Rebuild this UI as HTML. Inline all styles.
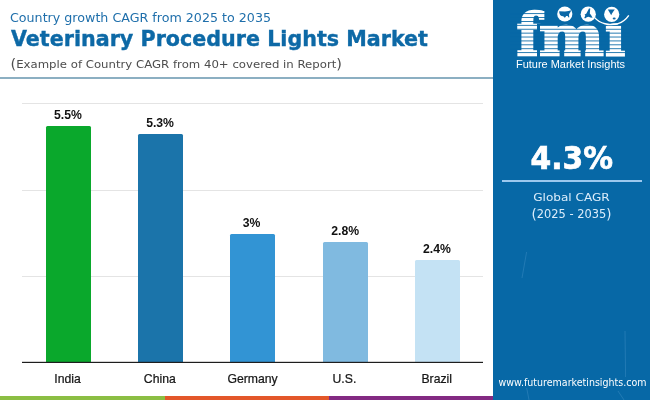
<!DOCTYPE html>
<html>
<head>
<meta charset="utf-8">
<style>
html,body{margin:0;padding:0;background:#fff;}
body{width:650px;height:400px;overflow:hidden;position:relative;}
svg{display:block;position:absolute;left:0;top:0;will-change:transform;}
.pop{font-family:"DejaVu Sans","Liberation Sans",sans-serif;}
.rob{font-family:"Liberation Sans",Arial,sans-serif;}
</style>
</head>
<body>
<svg width="650" height="400" viewBox="0 0 650 400">
  <defs>
    <clipPath id="noidot"><rect x="600" y="23.5" width="50" height="40"/></clipPath>
    <clipPath id="fclip"><rect x="500" y="0" width="50" height="23.5"/><rect x="500" y="23.5" width="37" height="40"/></clipPath>
  </defs>

  <!-- header -->
  <text id="sub" class="pop" x="10" y="21.7" font-size="11.8" fill="#1f6fab" textLength="261" lengthAdjust="spacingAndGlyphs">Country growth CAGR from 2025 to 2035</text>
  <text id="title" class="pop" x="11" y="45.7" font-size="21.6" font-weight="bold" fill="#0d69a6" stroke="#0d69a6" stroke-width="0.4" textLength="417" lengthAdjust="spacingAndGlyphs">Veterinary Procedure Lights Market</text>
  <text id="ex" class="pop" x="10.5" y="68.1" font-size="11.3" fill="#4d4d4d" textLength="331.5" lengthAdjust="spacingAndGlyphs"><tspan font-size="14" dy="0.6">(</tspan><tspan dy="-0.6">Example of Country CAGR from 40+ covered in Report</tspan><tspan font-size="14" dy="0.6">)</tspan></text>
  <rect x="0" y="77" width="493" height="2" fill="#8cafc2"/>

  <!-- grid -->
  <rect x="22" y="103" width="461" height="1" fill="#e4e4e4"/>
  <rect x="22" y="190" width="461" height="1" fill="#e4e4e4"/>
  <rect x="22" y="276" width="461" height="1" fill="#e4e4e4"/>

  <!-- bars -->
  <path d="M46 362 V127.5 Q46 126 47.5 126 H89.5 Q91 126 91 127.5 V362 Z" fill="#0aa82c"/>
  <path d="M138 362 V135.5 Q138 134 139.5 134 H181.5 Q183 134 183 135.5 V362 Z" fill="#1b74aa"/>
  <path d="M230 362 V235.5 Q230 234 231.5 234 H273.5 Q275 234 275 235.5 V362 Z" fill="#3294d4"/>
  <path d="M323 362 V243.5 Q323 242 324.5 242 H366.5 Q368 242 368 243.5 V362 Z" fill="#80bae0"/>
  <path d="M415 362 V261.5 Q415 260 416.5 260 H458.5 Q460 260 460 261.5 V362 Z" fill="#c4e2f4"/>

  <rect x="22" y="361.8" width="461" height="1.2" fill="#1e1e1e"/>

  <!-- values -->
  <g class="rob" font-size="13" font-weight="bold" fill="#111" text-anchor="middle">
    <text transform="translate(67.90 119) scale(0.94 1)">5.5%</text>
    <text transform="translate(160.05 127) scale(0.94 1)">5.3%</text>
    <text transform="translate(251.60 227) scale(0.94 1)">3%</text>
    <text transform="translate(345.20 235) scale(0.94 1)">2.8%</text>
    <text transform="translate(436.95 253) scale(0.94 1)">2.4%</text>
  </g>
  <!-- categories -->
  <g class="rob" font-size="13" fill="#161616" stroke="#161616" stroke-width="0.25" text-anchor="middle">
    <text transform="translate(67.50 382.7) scale(0.94 1)">India</text>
    <text transform="translate(159.80 382.7) scale(0.94 1)">China</text>
    <text transform="translate(252.60 382.7) scale(0.94 1)">Germany</text>
    <text transform="translate(344.40 382.7) scale(0.94 1)">U.S.</text>
    <text transform="translate(436.70 382.7) scale(0.94 1)">Brazil</text>
  </g>

  <!-- bottom strip -->
  <rect x="0" y="396" width="165" height="4" fill="#8bbe43"/>
  <rect x="165" y="396" width="164" height="4" fill="#e3572a"/>
  <rect x="329" y="396" width="164" height="4" fill="#832a82"/>

  <!-- right panel -->
  <rect x="493" y="0" width="157" height="400" fill="#0768a6"/>

  <!-- logo -->
  <g font-family="DejaVu Serif, Liberation Serif, serif" font-weight="bold" font-size="58" fill="#fff" stroke="#fff" stroke-width="2.5">
    <g clip-path="url(#fclip)"><text transform="translate(516.7 55) scale(0.941 0.989)">f</text></g>
    <text transform="translate(539.25 54.56) scale(1.05 0.939)">m</text>
    <g clip-path="url(#noidot)"><text transform="translate(605.2 55.16) scale(0.9 0.94)">i</text></g>
  </g>
  <g fill="#0768a6"><rect x="559.6" y="48" width="4.6" height="9"/><rect x="580.6" y="48" width="4.6" height="9"/></g>
  <g fill="#0768a6"><rect x="510" y="13.20" width="40" height="0.85"/><rect x="510" y="17.10" width="40" height="0.85"/><rect x="510" y="21.00" width="40" height="0.85"/><rect x="510" y="24.90" width="120" height="0.85"/><rect x="510" y="28.80" width="120" height="0.85"/><rect x="510" y="32.70" width="120" height="0.85"/><rect x="510" y="36.60" width="120" height="0.85"/><rect x="510" y="40.50" width="120" height="0.85"/><rect x="510" y="44.40" width="120" height="0.85"/><rect x="510" y="48.30" width="120" height="0.85"/><rect x="510" y="52.20" width="120" height="0.85"/></g>
  <circle cx="564.8" cy="14" r="7.6" fill="#fff"/>
  <circle cx="588.25" cy="14.2" r="7.6" fill="#fff"/>
  <circle cx="611.7" cy="14.4" r="7.6" fill="#fff"/>
  <path d="M559.2 11.3 L565 11.4 L568.6 11 L570.9 10.3 L570.7 11.8 L569.6 13.2 L569 14.8 L569.3 17.2 L568.6 17.4 L567.6 15.9 L566.2 15.9 L565.1 17.6 L564.3 17.5 L563.3 16.3 L561.5 16 L560.1 15 Q559.1 13.5 559.2 11.3 Z" fill="#0b67a6"/>
  <path d="M589 8.6 L590.3 8.4 L590 11 L589.8 13.5 L591 15 L592.6 17.8 L590.5 17.6 L588.5 16.8 L586.8 17.2 L585 18.6 L584.3 17.8 L585.3 15.8 L584.6 14.6 L586.2 13.8 L587.4 11.5 Z" fill="#0b67a6"/>
  <path d="M607.8 9.6 L614.8 9.4 L613.5 11.2 L612 13.5 L611.2 15.2 L610.2 13.4 L609 11.5 Z" fill="#0b67a6"/>
  <ellipse cx="614.2" cy="18.4" rx="1.5" ry="1" fill="#0b67a6"/>
  <path d="M594.6 17.6 C600 23.5, 609 26.2, 618 23.6 C622.5 22.2, 626.2 19.2, 628.8 15.4" stroke="#fff" stroke-width="1.4" fill="none"/>
  <text id="fmitxt" x="516" y="67.7" font-family="Liberation Sans, sans-serif" font-size="11" fill="#fff" textLength="109" lengthAdjust="spacingAndGlyphs">Future Market Insights</text>

  <text id="big" class="pop" x="530.5" y="168.9" font-size="31.4" font-weight="bold" fill="#fff" stroke="#fff" stroke-width="0.7" textLength="82.5" lengthAdjust="spacingAndGlyphs">4.3%</text>
  <rect x="502" y="180" width="140" height="2" fill="#9cc8ee"/>
  <text id="gc" class="pop" x="533.2" y="201.3" font-size="11" textLength="76.5" lengthAdjust="spacingAndGlyphs" fill="#dcedfb">Global CAGR</text>
  <text id="yr" class="pop" x="531.5" y="218.1" font-size="12.1" fill="#dcedfb" textLength="80" lengthAdjust="spacingAndGlyphs"><tspan font-size="14.2" dy="0.5">(</tspan><tspan dy="-0.5">2025 - 2035</tspan><tspan font-size="14.2" dy="0.5">)</tspan></text>

  <g stroke="#5a9fd2" stroke-width="0.8" fill="none" opacity="0.4">
    <path d="M526.6 252 L522 278"/>
    <path d="M625 331 L625.6 377"/>
    <path d="M618 391 L624 400"/>
    <path d="M526.7 388 L529 400"/>
  </g>
  <text id="url" class="pop" x="498.5" y="386" font-size="9.6" fill="#fff" textLength="148" lengthAdjust="spacingAndGlyphs">www.futuremarketinsights.com</text>
</svg>
</body>
</html>
